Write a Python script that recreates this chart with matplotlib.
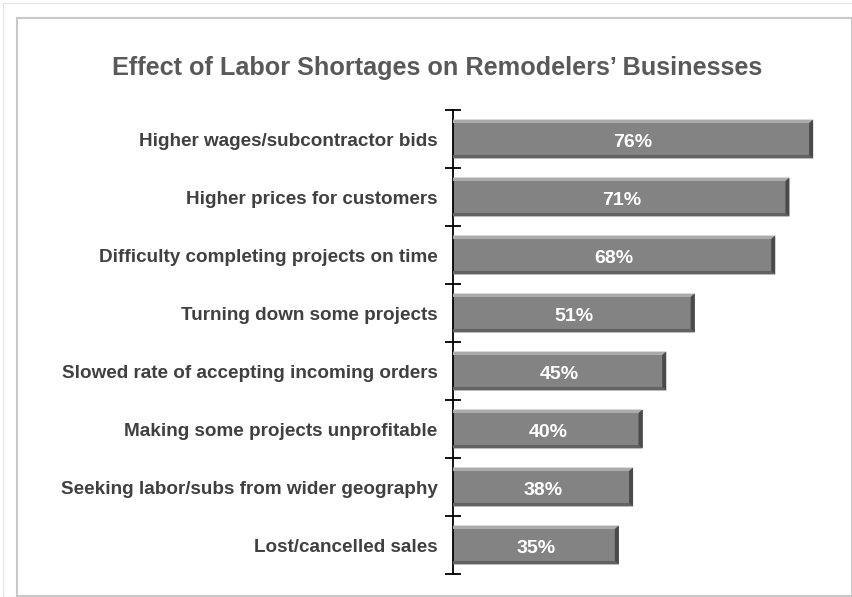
import matplotlib.pyplot as plt
from matplotlib.patches import Rectangle, Polygon

categories = [
    "Higher wages/subcontractor bids",
    "Higher prices for customers",
    "Difficulty completing projects on time",
    "Turning down some projects",
    "Slowed rate of accepting incoming orders",
    "Making some projects unprofitable",
    "Seeking labor/subs from wider geography",
    "Lost/cancelled sales",
]
values = [76, 71, 68, 51, 45, 40, 38, 35]
title = "Effect of Labor Shortages on Remodelers\u2019 Businesses"

plt.rcParams['font.family'] = ['Liberation Sans', 'DejaVu Sans']

fig = plt.figure(figsize=(8.53, 5.97), dpi=100)
W, H = 853, 597

# panel frame
fig.patches.append(Rectangle((3 / W, 0), 1 - 3 / W, 1 - 3 / H, transform=fig.transFigure,
                             fill=False, edgecolor='#e6e6e6', lw=1.0))
fig.patches.append(Rectangle((17 / W, 1 / H), 835 / W, 1 - 19 / H, transform=fig.transFigure,
                             fill=False, edgecolor='#c8c8c8', lw=1.5))

ax = fig.add_axes([453 / W, 1 - 574 / H, 381 / W, 464 / H])

h = 0.67
bw_y = 0.06   # bevel thickness in y units
bw_x = 0.85   # bevel thickness in x units
ys = list(range(len(categories)))
ax.barh(ys, values, height=h, color='#838383', edgecolor='none', zorder=2)
for y, v in zip(ys, values):
    top = y - h / 2
    bot = y + h / 2
    # top highlight
    ax.add_patch(Polygon([(0, top), (v, top), (v - bw_x, top + bw_y), (0, top + bw_y)],
                         closed=True, color='#ababab', lw=0, zorder=3))
    # bottom shadow
    ax.add_patch(Polygon([(0, bot), (v, bot), (v - bw_x, bot - bw_y), (0, bot - bw_y)],
                         closed=True, color='#626262', lw=0, zorder=3))
    # right shadow
    ax.add_patch(Polygon([(v, top), (v, bot), (v - bw_x, bot - bw_y), (v - bw_x, top + bw_y)],
                         closed=True, color='#4a4a4a', lw=0, zorder=3))
    ax.text(v / 2, y + 0.02, f"{v}%", ha='center', va='center_baseline', color='white',
            fontsize=14, fontweight='bold', zorder=4)

ax.set_xlim(0, 80.4)
ax.set_ylim(len(categories) - 0.5, -0.5)

for s in ['top', 'right', 'bottom']:
    ax.spines[s].set_visible(False)
ax.spines['left'].set_linewidth(1.3)
ax.spines['left'].set_color('black')
ax.set_xticks([])

ax.set_yticks(ys)
ax.set_yticklabels(categories, fontsize=13.6, fontweight='bold', color='#404040')
ax.tick_params(axis='y', which='major', length=0, pad=11)
ax.set_yticks([y - 0.5 for y in ys] + [len(categories) - 0.5], minor=True)
ax.tick_params(axis='y', which='minor', length=12, width=1.3, direction='inout', color='black')

fig.text(437 / W, 1 - 68 / H, title, ha='center', va='center', fontsize=18.2,
         fontweight='bold', color='#595959')

fig.savefig('out.png', dpi=100)
